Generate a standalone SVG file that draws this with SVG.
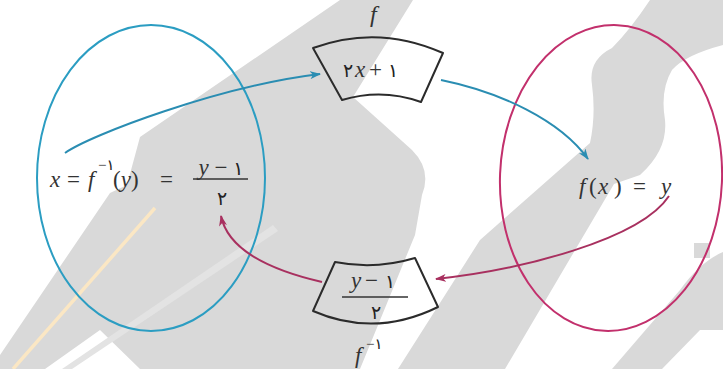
<svg xmlns="http://www.w3.org/2000/svg" width="723" height="369" viewBox="0 0 723 369">
<style>
.wm{fill:#d9d9d9;stroke:none}
.wl{fill:#e3e3e3;stroke:none}
.set{fill:none;stroke-width:2}
.box{fill:none;stroke:#2b2b2b;stroke-width:2;stroke-linejoin:round}
.m{font-family:"Liberation Serif","DejaVu Serif",serif;font-size:23px;fill:#333}
.i{font-style:italic}
.d{font-family:"DejaVu Sans","Noto Sans",sans-serif;font-size:19px;fill:#222}
.sup{font-size:15px}
.fr{stroke:#333;stroke-width:1.6}
.cb{fill:none;stroke:#2a8db2;stroke-width:2}
.cm{fill:none;stroke:#a8305f;stroke-width:2}
</style>
<defs>
<marker id="ab" markerWidth="11" markerHeight="8" refX="10" refY="4" orient="auto" markerUnits="userSpaceOnUse">
<path d="M0,0 L11,4 L0,8 L3,4 Z" fill="#2a8db2"/>
</marker>
<marker id="am" markerWidth="11" markerHeight="8" refX="10" refY="4" orient="auto" markerUnits="userSpaceOnUse">
<path d="M0,0 L11,4 L0,8 L3,4 Z" fill="#a8305f"/>
</marker>
</defs>

<g id="watermark">
<path class="wm" d="M340,0 L413,0 L353,97 L412,150 Q432,170 422,195 L415,235 L360,369 L140,369 L100,330 L45,369 L0,369 L0,355 L110,193 L127,185 L140,137 Z"/>
<path class="wl" d="M62,369 L72,369 L278,231 L273,225 Z"/>
<path class="wm" d="M398,369 L505,369 L614,184 L640,175 Q668,150 665,120 Q660,90 672,70 Q685,55 723,45 L723,0 L650,0 Q630,30 612,48 Q588,60 592,85 Q596,115 590,143 L480,240 Z"/>
<path class="wm" d="M612,369 L662,369 L700,330 L723,330 L723,252 Q700,262 680,290 Z"/>
<rect class="wm" x="694" y="243" width="16" height="15"/>
<path d="M155,208 L13,369" stroke="#fbe7c4" stroke-width="3.5" fill="none"/>
</g>

<g id="set-domain">
<ellipse class="set" cx="151" cy="178" rx="114" ry="153" stroke="#2b9dc2"/>
<text class="m i" x="50" y="187">x</text>
<text class="m" x="67" y="187">=</text>
<text class="m i" x="88" y="187">f</text>
<text class="m sup" x="98" y="170">−<tspan class="d sup">۱</tspan></text>
<text class="m" x="113" y="187">(<tspan class="i">y</tspan>)</text>
<text class="m" x="160" y="187">=</text>
<text class="m" x="221" y="175" text-anchor="middle"><tspan class="i">y</tspan> − <tspan class="d">۱</tspan></text>
<line class="fr" x1="193" y1="179" x2="248" y2="179"/>
<text class="d" x="222" y="205" text-anchor="middle">۲</text>
</g>

<g id="set-range">
<ellipse class="set" cx="611" cy="178" rx="111" ry="153" stroke="#c2306c" transform="rotate(2.4 611 178)"/>
<text class="m i" x="579" y="194">f</text>
<text class="m" x="589" y="194">(</text>
<text class="m i" x="598" y="194">x</text>
<text class="m" x="614" y="194">)</text>
<text class="m" x="633" y="194">=</text>
<text class="m i" x="661" y="194">y</text>
</g>

<g id="node-f">
<path class="box" d="M313,48 Q378,24 443,53 L421,102 Q382,88 342,100 Z"/>
<text class="m i" x="370" y="22" style="font-size:24px">f</text>
<text class="d" x="343" y="77">۲</text>
<text class="m i" x="355" y="77">x</text>
<text class="m" x="369" y="77">+</text>
<text class="d" x="388" y="77">۱</text>
</g>

<g id="node-finv">
<path class="box" d="M335,262 Q375,270 415,258 L438,307 Q375,338 313,311 Z"/>
<text class="m i" x="351" y="288">y</text>
<text class="m" x="365" y="288">−</text>
<text class="d" x="385" y="288">۱</text>
<line class="fr" x1="342" y1="297" x2="408" y2="297"/>
<text class="d" x="376" y="319" text-anchor="middle">۲</text>
<text class="m i" x="355" y="363">f</text>
<text class="m sup" x="366" y="349">−<tspan class="d sup">۱</tspan></text>
</g>

<g id="connectors">
<path class="cb" d="M65,153 C90,135 220,86 320,74" marker-end="url(#ab)"/>
<path class="cb" d="M441,80 C500,92 560,120 588,159" marker-end="url(#ab)"/>
<path class="cm" d="M669,196 C640,240 520,270 436,279" marker-end="url(#am)"/>
<path class="cm" d="M322,282 C270,270 228,250 221,216" marker-end="url(#am)"/>
</g>
</svg>
